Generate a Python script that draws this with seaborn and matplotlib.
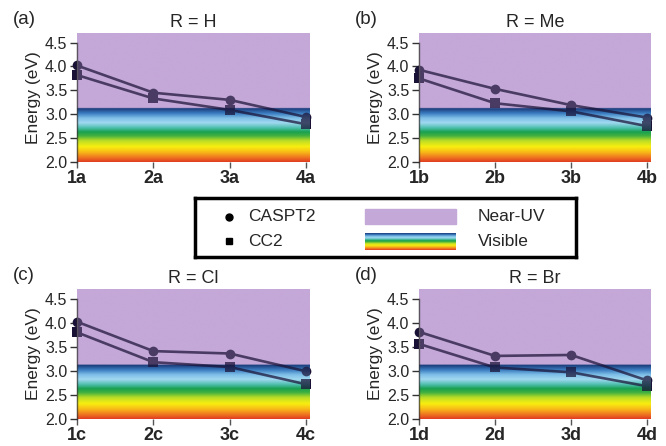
import numpy as np
import pandas as pd
import matplotlib
matplotlib.use("Agg")
import matplotlib.pyplot as plt
import seaborn as sns
from matplotlib.colors import LinearSegmentedColormap, to_rgb

sns.set_theme(style="white")
plt.rcParams['font.family'] = ['Liberation Sans', 'DejaVu Sans']

# ---- data ----
panel_letters = ["a", "b", "c", "d"]
panel_titles = ["R = H", "R = Me", "R = Cl", "R = Br"]
compound_numbers = ["1", "2", "3", "4"]
caspt2_a = [4.02, 3.45, 3.30, 2.94]
cc2_a = [3.82, 3.33, 3.09, 2.79]
caspt2_b = [3.93, 3.53, 3.19, 2.93]
cc2_b = [3.75, 3.23, 3.06, 2.75]
caspt2_c = [4.02, 3.41, 3.36, 2.99]
cc2_c = [3.80, 3.18, 3.08, 2.72]
caspt2_d = [3.81, 3.31, 3.33, 2.80]
cc2_d = [3.56, 3.07, 2.97, 2.68]
caspt2 = [caspt2_a, caspt2_b, caspt2_c, caspt2_d]
cc2 = [cc2_a, cc2_b, cc2_c, cc2_d]
methods = ["CASPT2", "CC2"]
y_ticks = [2.0, 2.5, 3.0, 3.5, 4.0, 4.5]
visible_top = 3.13
y_top = 4.7

# ---- background ----
purple = to_rgb("#c4a8d8")
grad_stops = [(2.00, "#e03c20"), (2.10, "#f07a20"), (2.20, "#f8b818"),
              (2.32, "#f8ee10"), (2.45, "#b8dc28"), (2.55, "#40b040"),
              (2.63, "#18a050"), (2.72, "#50c0b0"), (2.82, "#a0d8f0"),
              (2.92, "#80c0e8"), (3.02, "#3a7cc0"), (3.13, "#1a3a78")]
pos = [(v - 2.0) / (visible_top - 2.0) for v, _ in grad_stops]
spectrum = LinearSegmentedColormap.from_list("vis", list(zip(pos, [c for _, c in grad_stops])))

nrows = 600
yy = np.linspace(y_top, 2.0, nrows)
bg = np.zeros((nrows, 2, 3))
for i, v in enumerate(yy):
    if v > visible_top:
        bg[i, :, :] = purple
    else:
        bg[i, :, :] = spectrum((v - 2.0) / (visible_top - 2.0))[:3]

W, H = 666, 446
fig = plt.figure(figsize=(W / 100, H / 100), dpi=100)

axes_px = [(77, 33, 310, 162), (419, 33, 651, 162), (77, 289, 310, 419), (419, 289, 651, 419)]
label_px = [(13, 20), (355, 20), (13, 275), (355, 275)]

for k in range(4):
    x0, y0, x1, y1 = axes_px[k]
    ax = fig.add_axes([x0 / W, 1 - y1 / H, (x1 - x0) / W, (y1 - y0) / H])
    xend = 3.05
    ax.imshow(bg, extent=[0, xend, 2.0, y_top], aspect="auto", zorder=0, interpolation="bilinear")
    cats = [c + panel_letters[k] for c in compound_numbers]
    df = pd.DataFrame({
        "pos": list(range(4)) * 2,
        "energy": caspt2[k] + cc2[k],
        "method": [methods[0]] * 4 + [methods[1]] * 4,
    })
    sns.lineplot(data=df, x="pos", y="energy", style="method", markers={"CASPT2": "o", "CC2": "s"},
                 dashes=False, color="#1a1236", linewidth=1.9, markersize=7,
                 markeredgewidth=0, legend=False, ax=ax, zorder=2, clip_on=False)
    ax.imshow(bg, extent=[0, xend, 2.0, y_top], aspect="auto", zorder=4, alpha=0.28, interpolation="bilinear")
    ax.set_xlim(0, xend)
    ax.set_ylim(2.0, y_top)
    ax.set_xticks(range(4))
    ax.set_xticklabels(cats, fontsize=13, fontweight="bold")
    ax.set_yticks(y_ticks)
    ax.set_yticklabels([f"{t:.1f}" for t in y_ticks], fontsize=11.5)
    ax.set_xlabel("")
    ax.set_ylabel("Energy (eV)", fontsize=12.5, labelpad=3)
    for s in ["top", "right"]:
        ax.spines[s].set_visible(False)
    ax.spines["left"].set_bounds(2.0, 4.5)
    ax.spines["left"].set_color("#333333")
    ax.spines["left"].set_linewidth(1.0)
    ax.spines["bottom"].set_visible(False)
    ax.tick_params(axis="y", direction="out", length=5, width=1, color="#333333", pad=2, left=True)
    ax.tick_params(axis="x", direction="out", length=4, width=1, color="#555555", pad=2, bottom=True)
    ax.set_title(panel_titles[k], fontsize=13, pad=4)
    fig.text(label_px[k][0] / W, 1 - label_px[k][1] / H, f"({panel_letters[k]})", fontsize=13.5,
             ha="left", va="center")

# ---- legend box ----
lx0, ly0, lx1, ly1 = 195, 198, 576, 257
lax = fig.add_axes([lx0 / W, 1 - ly1 / H, (lx1 - lx0) / W, (ly1 - ly0) / H])
lax.set_xticks([])
lax.set_yticks([])
for s in lax.spines.values():
    s.set_visible(True)
    s.set_color("black")
    s.set_linewidth(2.5)
lax.plot([229], [217], marker="o", color="black", markersize=5)
lax.plot([229], [241], marker="s", color="black", markersize=5)
lax.text(248, 217, "CASPT2", fontsize=12.5, va="center", ha="left")
lax.text(248, 241, "CC2", fontsize=12.5, va="center", ha="left")
lax.add_patch(plt.Rectangle((365, 209), 91, 15, color=purple))
leg_grad = np.array([spectrum(v)[:3] for v in np.linspace(1, 0, 100)]).reshape(100, 1, 3)
lax.imshow(leg_grad, extent=[365, 456, 250, 233], aspect="auto", interpolation="bilinear")
lax.set_xlim(lx0, lx1)
lax.set_ylim(ly1, ly0)
lax.text(478, 217, "Near-UV", fontsize=12.5, va="center", ha="left")
lax.text(478, 241, "Visible", fontsize=12.5, va="center", ha="left")

fig.savefig("out.png", dpi=100)
